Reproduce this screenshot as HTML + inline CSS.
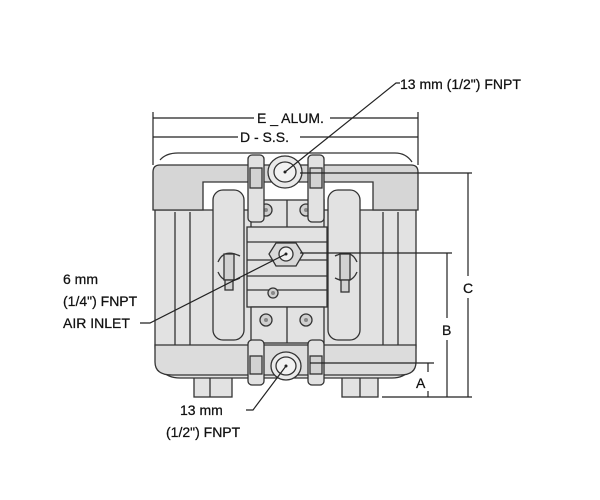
<!DOCTYPE html>
<html><head><style>
html,body{margin:0;padding:0;background:#fff;}
svg{display:block;}
text{font-family:"Liberation Sans",Arial,sans-serif;font-size:14px;fill:#111;stroke:#111;stroke-width:0.25;}
</style></head><body>
<svg width="600" height="500" viewBox="0 0 600 500" xmlns="http://www.w3.org/2000/svg">
<g stroke="#333" stroke-width="1.3" fill="#e2e2e2">
<!-- feet -->
<rect x="194" y="372" width="38" height="25"/>
<rect x="342" y="372" width="36" height="25"/>
<line x1="210" y1="374" x2="210" y2="397"/><line x1="360" y1="374" x2="360" y2="397"/>
<!-- body -->
<path d="M155 210 H416 V345 Q416 378 392 378 H180 Q155 378 155 345 Z"/>
<path d="M155 345 H416 V362 Q416 375 400 375 H172 Q155 375 155 362 Z" fill="#dcdcdc"/>
<line x1="175" y1="212" x2="175" y2="345"/><line x1="190" y1="212" x2="190" y2="345"/>
<line x1="398" y1="212" x2="398" y2="345"/><line x1="383" y1="212" x2="383" y2="345"/>
<!-- top manifold -->
<path d="M160 160 Q166 153 178 153 H395 Q406 153 412 162" fill="none"/>
<path d="M160 165 H411 Q418 165 418 172 V210 H373 V182 H203 V210 H153 V172 Q153 165 160 165 Z" fill="#d6d6d6"/>
<!-- diaphragm chambers -->
<rect x="213" y="190" width="31" height="150" rx="10"/>
<rect x="328" y="190" width="32" height="150" rx="10"/>
<!-- center block -->
<rect x="251" y="200" width="73" height="30"/>
<rect x="247" y="227" width="80" height="80"/>
<line x1="247" y1="242" x2="327" y2="242"/><line x1="247" y1="260" x2="327" y2="260"/>
<line x1="247" y1="276" x2="327" y2="276"/><line x1="247" y1="290" x2="327" y2="290"/>
<rect x="251" y="307" width="73" height="36"/>
<line x1="287" y1="200" x2="287" y2="227"/><line x1="287" y1="307" x2="287" y2="343"/>
<!-- bolts -->
<g fill="#cfcfcf">
<circle cx="266" cy="210" r="6"/><circle cx="306" cy="210" r="6"/>
<circle cx="266" cy="320" r="6"/><circle cx="306" cy="320" r="6"/>
<circle cx="273" cy="293" r="5"/>
</g>
<g fill="#888" stroke="none">
<circle cx="266" cy="210" r="2"/><circle cx="306" cy="210" r="2"/>
<circle cx="266" cy="320" r="2"/><circle cx="306" cy="320" r="2"/><circle cx="273" cy="293" r="2"/>
</g>
<!-- side clamps -->
<path d="M218 262 Q224 248 240 256 M218 272 Q224 286 240 278" fill="none"/>
<rect x="224" y="254" width="10" height="26" fill="#d2d2d2"/>
<rect x="225" y="280" width="8" height="10" fill="#d2d2d2"/>
<path d="M357 262 Q351 248 335 256 M357 272 Q351 286 335 278" fill="none"/>
<rect x="340" y="254" width="10" height="26" fill="#d2d2d2"/>
<rect x="341" y="280" width="8" height="12" fill="#d2d2d2"/>
<!-- top port clamps -->
<rect x="248" y="155" width="16" height="67" rx="4"/>
<rect x="308" y="155" width="16" height="67" rx="4"/>
<rect x="250" y="168" width="12" height="20" fill="#d2d2d2"/><rect x="310" y="168" width="12" height="20" fill="#d2d2d2"/>
<ellipse cx="285" cy="172" rx="17" ry="16" fill="#eaeaea"/>
<ellipse cx="285" cy="172" rx="11" ry="10" fill="#f2f2f2"/>
<!-- air inlet -->
<polygon points="276,243 296,243 303,254 296,266 276,266 269,254" fill="#d8d8d8"/>
<circle cx="286" cy="254" r="7" fill="#f0f0f0"/>
<!-- bottom port clamps -->
<rect x="248" y="340" width="16" height="45" rx="4"/>
<rect x="308" y="340" width="16" height="45" rx="4"/>
<rect x="250" y="356" width="12" height="18" fill="#d2d2d2"/><rect x="310" y="356" width="12" height="18" fill="#d2d2d2"/>
<ellipse cx="286" cy="366" rx="15" ry="14" fill="#eaeaea"/>
<ellipse cx="286" cy="366" rx="10" ry="9" fill="#f2f2f2"/>
</g>
<g fill="#222"><circle cx="285" cy="172" r="1.5"/><circle cx="286" cy="254" r="1.5"/><circle cx="286" cy="366" r="1.5"/></g>
<!-- dimension lines -->
<g stroke="#222" stroke-width="1.2" fill="none">
<line x1="153" y1="112" x2="153" y2="165"/><line x1="418" y1="112" x2="418" y2="165"/>
<line x1="153" y1="137" x2="238" y2="137"/><line x1="300" y1="137" x2="418" y2="137"/>
<line x1="153" y1="118" x2="254" y2="118"/><line x1="330" y1="118" x2="418" y2="118"/>
<line x1="300" y1="173" x2="472" y2="173"/>
<line x1="300" y1="253" x2="452" y2="253"/>
<line x1="310" y1="363" x2="434" y2="363"/>
<line x1="382" y1="397" x2="472" y2="397"/>
<line x1="468" y1="173" x2="468" y2="276"/><line x1="468" y1="298" x2="468" y2="397"/>
<line x1="447" y1="253" x2="447" y2="318"/><line x1="447" y1="340" x2="447" y2="397"/>
<line x1="428" y1="363" x2="428" y2="372"/><line x1="428" y1="391" x2="428" y2="397"/>
<!-- leaders -->
<polyline points="285,172 396,83 400,83"/>
<polyline points="286,254 150,323 140,323"/>
<polyline points="286,366 253,410 246,410"/>
</g>
<text x="400" y="89">13 mm (1/2") FNPT</text>
<text x="257" y="123">E _ ALUM.</text>
<text x="240" y="142">D - S.S.</text>
<text x="463" y="293">C</text>
<text x="442" y="335">B</text>
<text x="416" y="388">A</text>
<text x="63" y="284">6 mm</text>
<text x="63" y="306">(1/4") FNPT</text>
<text x="63" y="328">AIR INLET</text>
<text x="180" y="415">13 mm</text>
<text x="166" y="437">(1/2") FNPT</text>
</svg>
</body></html>
